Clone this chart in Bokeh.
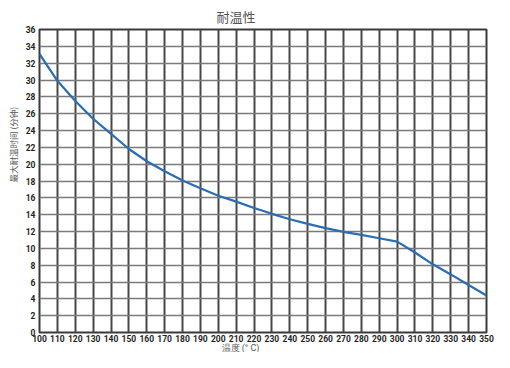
from bokeh.plotting import figure
from bokeh.models import Range1d, Title, FixedTicker
from bokeh.embed import file_html
from bokeh.resources import INLINE

# Data
temps = [100, 110, 120, 130, 140, 150, 160, 170, 180, 190, 200, 210, 220,
         230, 240, 250, 260, 270, 280, 290, 300, 310, 320, 330, 340, 350]
max_minutes = [33.1, 29.9, 27.5, 25.4, 23.6, 21.8, 20.35, 19.15, 18.05, 17.15,
               16.25, 15.55, 14.8, 14.1, 13.45, 12.9, 12.4, 11.95, 11.6, 11.2,
               10.8, 9.5, 8.1, 6.9, 5.65, 4.4]
x_ticks = list(range(100, 351, 10))
y_ticks = list(range(0, 37, 2))
title_text = "耐温性"
x_label = "温度 (° C)"
y_label = "最大耐温时间 (分钟)"

cjk = "Noto Sans CJK SC"

p = figure(width=494, height=352, output_backend="svg", toolbar_location=None,
           x_range=Range1d(100, 350), y_range=Range1d(0, 36),
           min_border_left=32, min_border_right=8, min_border_top=4, min_border_bottom=0)

p.background_fill_color = "white"
p.border_fill_color = "white"
p.outline_line_color = "#3a3a3a"
p.outline_line_width = 2

tick_font = "Roboto"
for ax, ticks in ((p.xaxis[0], x_ticks), (p.yaxis[0], y_ticks)):
    ax.ticker = FixedTicker(ticks=ticks)
    ax.axis_label = None
    ax.axis_line_color = None
    ax.major_tick_line_color = None
    ax.minor_tick_line_color = None
    ax.major_tick_out = 0
    ax.major_tick_in = 0
    ax.axis_label_standoff = 0
    ax.major_label_text_font = tick_font
    ax.major_label_text_font_style = "bold"
    ax.major_label_text_font_size = "8.5px"
    ax.major_label_text_color = "#1e1e1e"
p.xaxis[0].major_label_standoff = 2
p.yaxis[0].major_label_standoff = 4

p.xgrid[0].ticker = FixedTicker(ticks=x_ticks)
p.xgrid[0].grid_line_color = "#474747"
p.xgrid[0].grid_line_width = 2
p.ygrid[0].ticker = FixedTicker(ticks=y_ticks)
p.ygrid[0].grid_line_color = "#7a7a7a"
p.ygrid[0].grid_line_width = 1.6

p.line(temps, max_minutes, line_color="#2a6db2", line_width=2.2)

p.add_layout(Title(text=title_text, align="left", offset=177, standoff=8,
                   text_font=cjk, text_font_size="13px", text_font_style="normal",
                   text_color="#555555"), "above")
p.add_layout(Title(text=x_label, align="left", offset=182, standoff=-4,
                   vertical_align="top",
                   text_font="Roboto", text_font_size="9px", text_font_style="normal",
                   text_color="#555555"), "below")
p.add_layout(Title(text=y_label, align="left", offset=150, standoff=8,
                   text_font=cjk, text_font_size="8.5px", text_font_style="normal",
                   text_color="#555555"), "left")

open("out.html", "w").write(file_html(p, INLINE))
